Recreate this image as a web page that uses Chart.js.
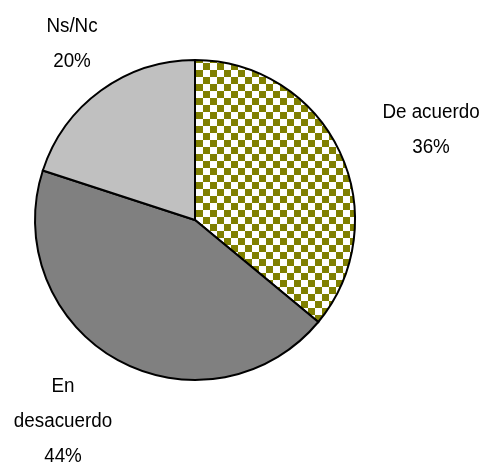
<!DOCTYPE html>
<html>
<head>
<meta charset="utf-8">
<script src="https://cdn.jsdelivr.net/npm/chart.js@4.4.0/dist/chart.umd.min.js"></script>
<style>
  html, body { margin: 0; padding: 0; background: #fff; }
  #wrap { width: 483px; height: 462px; }
</style>
</head>
<body>
<div id="wrap"><canvas id="pie" width="483" height="462"></canvas></div>
<script>
// datos del gráfico
const categorias = ['De acuerdo', 'En desacuerdo', 'Ns/Nc'];
const lineasEtiqueta = [['De acuerdo'], ['En', 'desacuerdo'], ['Ns/Nc']];
const porcentajes = [36, 44, 20];

// posición de cada etiqueta respecto al centro del pastel (primera línea)
const desplazEtiqueta = [[236, -108], [-132, 166], [-123, -194]];

// patrón cuadriculado oliva / blanco
function crearPatron() {
  const c = document.createElement('canvas');
  const t = 7;
  c.width = t * 2;
  c.height = t * 2;
  const g = c.getContext('2d');
  g.fillStyle = '#ffffff';
  g.fillRect(0, 0, t * 2, t * 2);
  g.fillStyle = '#808000';
  g.fillRect(0, 0, t, t);
  g.fillRect(t, t, t, t);
  return g.createPattern(c, 'repeat');
}

const ctx = document.getElementById('pie').getContext('2d');
const patron = crearPatron();

// etiquetas fuera del pastel (letra algo estrecha, como en el original)
const etiquetasPlugin = {
  id: 'etiquetas',
  afterDatasetsDraw(chart) {
    const arcos = chart.getDatasetMeta(0).data;
    if (!arcos.length) return;
    const cx = arcos[0].x;
    const cy = arcos[0].y;
    const c = chart.ctx;
    c.save();
    c.fillStyle = '#000';
    c.font = '20px "Liberation Sans", Arial, sans-serif';
    c.textAlign = 'center';
    c.textBaseline = 'middle';
    porcentajes.forEach((p, i) => {
      const lineas = lineasEtiqueta[i].concat([p + '%']);
      const [dx, dy] = desplazEtiqueta[i];
      lineas.forEach((txt, j) => {
        c.save();
        c.translate(cx + dx, cy + dy + j * 35);
        c.scale(0.94, 1);
        c.fillText(txt, 0, 0);
        c.restore();
      });
    });
    c.restore();
  }
};

new Chart(ctx, {
  type: 'pie',
  data: {
    labels: categorias,
    datasets: [{
      data: porcentajes,
      backgroundColor: [patron, '#808080', '#c0c0c0'],
      borderColor: '#000000',
      borderWidth: 2,
      borderJoinStyle: 'miter',
      radius: 160
    }]
  },
  options: {
    responsive: false,
    animation: false,
    layout: { padding: { left: 35, right: 128, top: 60, bottom: 82 } },
    plugins: {
      legend: { display: false },
      tooltip: { enabled: false }
    }
  },
  plugins: [etiquetasPlugin]
});
</script>
</body>
</html>
